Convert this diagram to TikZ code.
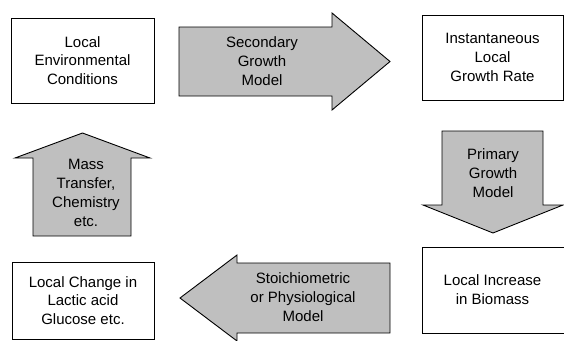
\documentclass[tikz,border=0pt]{standalone}
\usepackage{fontspec}
\setmainfont{Liberation Sans}
\begin{document}
\begin{tikzpicture}[x=1pt,y=-1pt,
  box/.style={draw, line width=0.9pt, fill=white, align=center, inner sep=0pt,
    font=\fontsize{15}{18.8}\selectfont},
  bigarrow/.style={draw, line width=0.9pt, fill=black!25, line join=miter},
  lbl/.style={align=center, inner sep=0pt, font=\fontsize{15}{18.8}\selectfont}]
\useasboundingbox (0,0) rectangle (564,340);
% boxes
\node[box, minimum width=143pt, minimum height=85pt] (env) at (82.5,60.5) {Local\\Environmental\\Conditions};
\node[box, minimum width=141pt, minimum height=85pt] (rate) at (492.5,57.5) {Instantaneous\\Local\\Growth Rate};
\node[box, minimum width=144pt, minimum height=86pt] (bio) at (494,290) {};
\node[lbl] (biotext) at (492.5,290) {Local Increase\\in Biomass};
\node[box, minimum width=142pt, minimum height=77pt] (chg) at (83,300.5) {Local Change in\\Lactic acid\\Glucose etc.};
% block arrows
\draw[bigarrow] (179,27) -- (332,27) -- (332,13) -- (390,61.5) -- (332,110) -- (332,96) -- (179,96) -- cycle;
\node[lbl] (sec) at (262,61) {Secondary\\Growth\\Model};
\draw[bigarrow] (442,131) -- (543,131) -- (543,205) -- (563,205) -- (493,233) -- (423,205) -- (442,205) -- cycle;
\node[lbl] (prim) at (493,173) {Primary\\Growth\\Model};
\draw[bigarrow] (390,263) -- (237,263) -- (237,255) -- (180,298) -- (237,341) -- (237,333) -- (390,333) -- cycle;
\node[lbl] (stoi) at (303,297) {Stoichiometric\\or Physiological\\Model};
\draw[bigarrow] (33,236) -- (131,236) -- (131,158) -- (150,158) -- (82.5,133) -- (15,158) -- (33,158) -- cycle;
\node[lbl] (mass) at (86,193) {Mass\\Transfer,\\Chemistry\\etc.};
\end{tikzpicture}
\end{document}
